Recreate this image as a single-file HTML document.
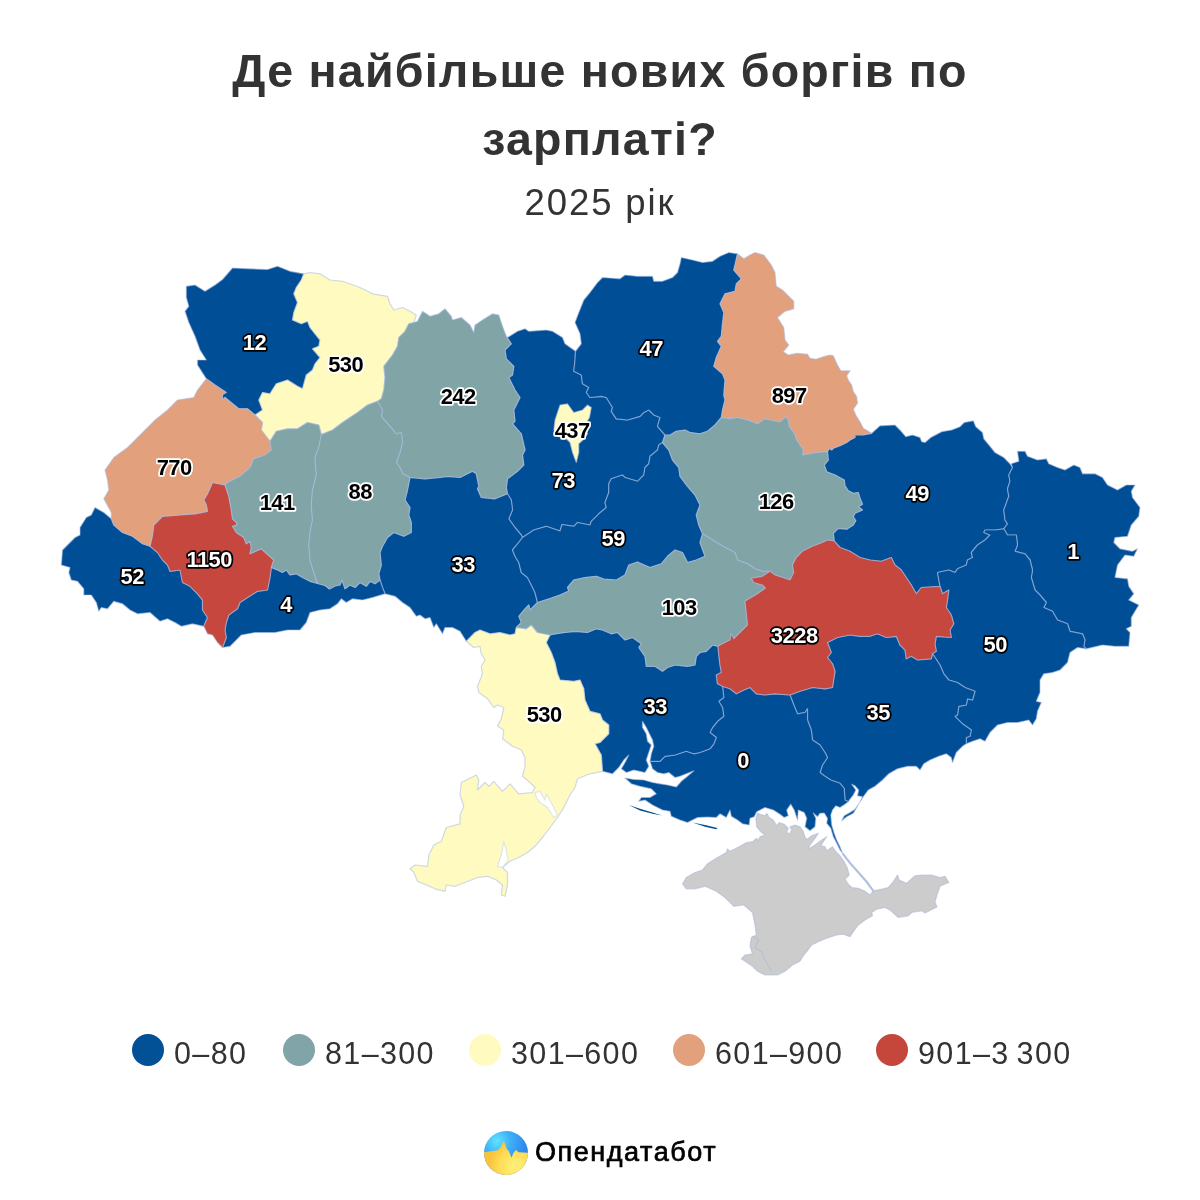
<!DOCTYPE html>
<html lang="uk">
<head>
<meta charset="utf-8">
<title>Де найбільше нових боргів по зарплаті?</title>
<style>
html,body{margin:0;padding:0;background:#fff;}
body{width:1200px;height:1200px;position:relative;overflow:hidden;font-family:"Liberation Sans",sans-serif;color:#333;}
.title{position:absolute;left:0;top:38px;width:1200px;text-align:center;font-weight:bold;font-size:46.5px;letter-spacing:1.25px;line-height:67.7px;color:#333;}
.sub{position:absolute;left:0;top:181.2px;width:1200px;text-align:center;font-size:36.5px;letter-spacing:1.9px;line-height:44px;color:#333;}
.legend{position:absolute;left:0;top:1031.2px;width:1200px;height:44px;}
.legend .it{position:absolute;top:0;height:44px;line-height:44px;font-size:30.5px;letter-spacing:1.35px;color:#333;white-space:nowrap;}
.legend .dot{position:absolute;top:2.8px;width:32px;height:32px;border-radius:50%;}
.logo{position:absolute;left:535px;top:1131.5px;font-size:27px;font-weight:normal;-webkit-text-stroke:0.7px #000;letter-spacing:1.55px;color:#000;line-height:40px;white-space:nowrap;}
#map{position:absolute;left:0;top:0;}
</style>
</head>
<body>
<div class="title">Де найбільше нових боргів по<br>зарплаті?</div>
<div class="sub">2025 рік</div>
<svg id="map" width="1200" height="1200" viewBox="0 0 1200 1200">
<!--MAP-->
<defs><filter id="bl" x="0" y="0" width="1200" height="1200" filterUnits="userSpaceOnUse"><feGaussianBlur stdDeviation="0.45"/></filter></defs>
<g stroke="#aab9e4" stroke-width="1.2" stroke-opacity="0.55" stroke-linejoin="round" filter="url(#bl)">
<polygon fill="#025096" points="206.3,378.8 197.5,365.0 197.5,360.0 206.3,360.0 200.0,350.0 195.0,336.3 188.8,322.5 185.0,311.3 188.8,306.3 186.3,297.5 186.3,286.3 195.0,285.0 205.0,291.3 215.0,285.0 222.5,279.5 232.5,268.0 250.0,268.8 267.5,269.5 277.5,266.3 290.0,271.3 303.8,273.8 303.8,273.8 301.3,280.0 296.3,287.5 293.8,293.8 297.5,302.5 293.8,312.5 292.5,320.0 301.3,323.8 307.5,321.3 310.0,327.5 315.0,333.8 320.0,340.0 318.8,346.3 312.5,348.8 320.0,357.5 315.0,363.8 312.5,370.0 306.3,375.0 302.5,388.8 297.5,386.3 287.5,380.0 276.3,383.8 270.0,393.8 262.5,392.5 258.8,400.0 262.5,410.0 255.0,415.0 255.0,415.0 247.5,408.8 238.8,408.8 225.0,397.5 222.5,400.0 222.5,394.5 226.3,392.5 215.0,385.0 206.3,378.8"/>
<polygon fill="#025096" points="506.3,336.3 507.5,337.5 517.5,331.3 525.0,328.8 528.8,331.3 546.3,330.0 552.5,331.3 562.5,337.5 565.0,343.8 573.8,350.0 575.5,351.3 575.5,351.3 575.0,360.0 573.8,371.3 581.3,375.0 582.5,383.8 588.8,387.5 586.3,392.5 590.0,397.5 601.3,396.3 606.3,397.5 612.5,407.5 611.3,411.3 616.3,418.8 627.5,420.0 640.0,416.3 643.8,412.5 648.8,410.0 653.8,415.0 660.0,417.5 657.5,426.3 665.0,435.0 665.0,435.0 662.5,442.5 662.5,442.5 658.8,445.0 657.5,450.0 650.0,456.3 648.8,463.8 645.0,467.5 643.8,475.0 637.5,481.3 625.0,477.5 622.5,475.0 611.3,478.8 608.8,483.8 608.8,492.5 605.0,502.5 606.3,507.5 598.8,513.8 591.3,521.3 590.0,525.0 577.5,522.5 573.8,526.3 562.0,524.5 560.0,531.0 546.3,526.3 533.8,530.0 522.5,537.5 522.5,537.5 521.3,535.0 515.0,527.5 508.8,518.8 512.5,510.0 511.3,500.0 507.5,493.8 507.5,493.8 506.3,487.5 507.5,478.8 517.5,471.3 523.8,465.0 522.5,455.0 525.0,450.0 521.3,433.8 512.5,423.8 515.0,421.3 513.8,410.0 520.0,397.5 515.0,390.0 508.8,377.5 512.5,375.0 513.8,366.3 506.3,358.8 505.0,350.0 511.3,343.8 506.3,336.3"/>
<polygon fill="#025096" points="575.5,351.3 581.3,343.8 580.0,333.8 575.0,322.5 578.8,312.5 583.8,300.0 590.0,292.5 597.5,282.5 602.5,277.5 620.0,278.8 625.0,275.0 637.5,276.3 652.5,276.3 653.8,281.3 662.5,281.3 672.5,277.5 677.5,272.5 680.0,263.8 681.3,257.5 692.5,260.0 702.5,262.5 712.5,261.3 720.0,256.3 728.8,252.5 737.5,253.8 737.5,253.8 735.0,265.0 733.8,270.0 741.3,278.8 736.3,283.8 735.0,291.3 725.0,293.8 720.0,303.8 723.8,312.5 722.5,323.8 721.3,336.3 717.5,341.3 721.3,346.3 716.3,357.5 713.8,366.3 722.5,373.8 725.0,380.0 723.8,395.0 725.0,400.0 722.5,410.0 721.3,417.5 721.3,417.5 715.0,425.0 707.5,431.3 700.0,433.8 690.0,432.5 685.0,430.0 676.3,431.3 670.0,435.0 665.0,435.0 665.0,435.0 657.5,426.3 660.0,417.5 653.8,415.0 648.8,410.0 643.8,412.5 640.0,416.3 627.5,420.0 616.3,418.8 611.3,411.3 612.5,407.5 606.3,397.5 601.3,396.3 590.0,397.5 586.3,392.5 588.8,387.5 582.5,383.8 581.3,375.0 573.8,371.3 575.0,360.0 575.5,351.3"/>
<polygon fill="#025096" points="871.7,433.3 880.0,425.8 895.0,425.0 900.0,430.0 905.8,436.7 912.5,435.0 920.0,437.5 921.7,441.7 925.0,442.5 930.8,437.5 941.7,431.7 951.7,430.0 960.0,426.7 964.2,422.5 973.3,420.8 975.8,426.7 982.5,432.5 983.8,438.8 990.0,446.3 995.0,452.5 1003.8,457.5 1010.0,463.8 1012.5,467.5 1012.5,467.5 1008.8,475.0 1010.0,481.3 1007.5,488.8 1008.8,496.3 1003.8,510.0 1005.0,520.0 1007.5,523.8 1003.8,528.8 1003.8,528.8 995.0,530.0 985.0,530.0 983.8,532.5 990.0,535.0 985.0,540.0 977.5,545.0 971.3,552.5 972.5,557.5 967.5,560.0 966.3,565.0 957.5,568.8 955.0,572.5 948.8,570.0 937.5,572.5 940.0,586.3 940.0,586.3 921.3,587.5 916.3,593.8 911.3,585.0 906.3,577.5 901.3,570.0 895.0,565.0 891.3,557.5 881.3,561.3 870.0,560.0 860.0,557.5 850.0,551.3 840.0,547.5 834.2,541.0 834.2,541.0 833.3,533.3 838.3,528.3 846.7,529.2 853.3,525.0 855.8,520.8 853.3,516.7 855.0,513.3 862.5,510.0 858.3,506.7 862.5,504.2 860.0,498.3 858.3,492.5 853.3,493.3 848.3,490.8 845.0,485.8 844.2,480.0 835.0,475.0 826.7,471.7 824.2,465.0 828.3,460.0 827.5,451.7 827.5,451.7 829.2,448.3 831.7,450.0 833.3,448.3 840.0,445.8 846.7,442.5 850.0,440.0 855.0,437.5 855.0,435.0 863.3,435.0 871.7,433.3"/>
<polygon fill="#025096" points="1012.5,467.5 1011.3,463.8 1018.8,461.3 1017.5,451.3 1025.0,451.3 1027.5,456.3 1037.5,460.0 1046.3,458.8 1048.8,463.8 1057.5,467.5 1065.0,470.0 1073.8,465.0 1080.0,467.5 1082.5,473.8 1095.0,473.8 1102.5,477.5 1107.5,485.0 1117.5,490.0 1126.3,485.0 1135.0,485.0 1131.3,491.3 1132.5,497.5 1140.0,507.5 1138.8,516.3 1131.3,525.0 1127.5,536.3 1115.0,537.5 1113.8,542.5 1120.0,548.8 1132.5,551.3 1137.5,548.8 1133.8,556.3 1125.0,555.0 1117.5,565.0 1115.0,577.5 1127.5,578.8 1128.8,586.3 1133.8,593.8 1128.8,600.0 1138.8,605.0 1131.3,617.5 1131.3,626.3 1126.3,628.8 1130.0,632.5 1128.8,646.3 1115.0,646.3 1102.5,645.0 1086.3,648.8 1086.3,648.8 1083.8,646.3 1085.0,640.0 1082.5,633.8 1070.0,631.3 1067.5,623.8 1057.5,620.0 1052.5,611.3 1043.8,607.5 1046.3,602.5 1040.0,595.0 1035.0,590.0 1031.3,577.5 1032.5,570.0 1030.0,560.0 1025.0,553.8 1015.0,551.3 1017.5,545.0 1016.3,535.0 1007.5,535.0 1003.8,528.8 1003.8,528.8 1007.5,523.8 1005.0,520.0 1003.8,510.0 1008.8,496.3 1007.5,488.8 1010.0,481.3 1008.8,475.0 1012.5,467.5"/>
<polygon fill="#025096" points="1086.3,648.8 1077.5,647.5 1070.0,652.5 1067.5,662.5 1060.0,670.0 1052.5,672.5 1043.8,673.8 1040.0,680.0 1040.0,692.5 1036.3,701.3 1041.3,702.5 1037.5,711.3 1036.3,718.8 1032.5,725.0 1028.8,720.0 1017.5,722.5 1007.5,722.5 997.5,725.0 990.0,732.5 985.0,741.3 980.0,738.8 972.5,741.3 966.3,743.8 966.3,743.8 966.3,737.5 970.0,736.3 971.3,730.0 962.5,723.8 955.0,716.3 957.5,715.0 958.8,706.3 966.3,705.0 967.5,698.8 972.5,700.0 975.0,691.3 965.0,687.5 957.5,682.5 948.8,680.0 943.8,673.8 940.0,665.0 935.0,657.5 932.5,653.5 932.5,653.5 936.3,651.3 935.0,643.8 936.3,636.3 951.3,637.5 950.0,630.0 953.8,623.8 951.3,615.0 946.3,607.5 947.5,600.0 948.8,590.0 942.5,593.8 940.0,586.3 940.0,586.3 937.5,572.5 948.8,570.0 955.0,572.5 957.5,568.8 966.3,565.0 967.5,560.0 972.5,557.5 971.3,552.5 977.5,545.0 985.0,540.0 990.0,535.0 983.8,532.5 985.0,530.0 995.0,530.0 1003.8,528.8 1003.8,528.8 1007.5,535.0 1016.3,535.0 1017.5,545.0 1015.0,551.3 1025.0,553.8 1030.0,560.0 1032.5,570.0 1031.3,577.5 1035.0,590.0 1040.0,595.0 1046.3,602.5 1043.8,607.5 1052.5,611.3 1057.5,620.0 1067.5,623.8 1070.0,631.3 1082.5,633.8 1085.0,640.0 1083.8,646.3 1086.3,648.8"/>
<polygon fill="#025096" points="966.3,743.8 962.5,746.3 956.3,752.5 952.5,762.5 951.3,757.5 946.3,753.8 938.8,756.3 930.0,760.0 923.8,763.8 920.0,770.0 916.3,766.3 907.5,766.3 897.5,768.8 888.8,773.8 882.5,780.0 875.0,786.3 868.3,790.0 863.3,796.7 859.2,803.3 855.0,809.2 850.0,812.5 844.2,815.8 841.7,820.8 846.7,816.7 853.3,813.3 856.7,807.5 860.0,801.7 862.5,796.7 857.5,795.8 858.7,790.0 855.0,785.8 851.7,784.2 855.8,790.0 853.3,795.0 850.0,799.2 848.3,801.7 848.3,801.7 845.0,800.0 844.2,788.3 840.0,783.3 830.8,780.0 824.2,775.8 820.0,772.5 822.5,765.0 827.5,757.5 825.0,752.5 820.0,745.0 812.5,740.0 811.3,730.0 807.5,720.0 807.5,708.8 805.0,712.5 797.5,713.8 793.8,705.0 790.0,695.0 790.0,695.0 800.0,691.3 812.5,687.5 825.0,688.8 832.5,687.5 835.0,671.3 832.5,663.8 827.5,657.5 831.3,652.5 827.5,642.5 837.5,637.5 850.0,635.0 860.0,636.3 870.0,636.3 877.5,633.8 886.3,637.5 896.3,636.3 900.0,645.0 905.0,650.0 906.3,658.8 911.3,656.3 917.5,660.0 931.3,658.8 932.5,653.5 932.5,653.5 935.0,657.5 940.0,665.0 943.8,673.8 948.8,680.0 957.5,682.5 965.0,687.5 975.0,691.3 972.5,700.0 967.5,698.8 966.3,705.0 958.8,706.3 957.5,715.0 955.0,716.3 962.5,723.8 971.3,730.0 970.0,736.3 966.3,737.5 966.3,743.8"/>
<polygon fill="#025096" points="848.3,801.7 845.0,804.2 840.0,807.5 835.8,805.8 832.5,810.0 830.8,815.0 831.7,825.0 834.2,833.3 836.7,840.0 840.0,846.7 842.5,853.3 840.0,850.0 836.7,843.3 833.3,836.7 830.8,828.3 826.7,823.3 827.5,818.3 824.2,813.0 820.0,813.3 817.5,816.7 813.3,813.0 815.8,818.3 815.0,826.7 810.0,830.8 805.0,826.7 806.7,818.3 804.2,812.5 798.3,810.0 797.5,820.0 794.2,810.0 790.8,804.2 786.7,810.0 788.3,815.8 784.2,817.5 780.0,814.2 773.3,810.0 765.0,807.5 756.7,811.7 754.2,816.7 750.0,818.3 749.2,825.0 742.5,823.8 737.5,820.0 731.3,816.3 730.0,810.0 726.3,817.5 720.0,813.8 716.3,817.5 707.5,817.0 697.5,817.5 687.5,822.5 680.0,820.0 671.3,816.3 670.0,811.3 662.5,810.0 652.5,805.0 645.0,800.0 638.8,801.3 641.3,797.5 650.0,797.5 656.3,793.8 651.3,788.8 640.0,786.3 631.3,783.8 625.0,778.0 633.8,779.5 643.8,780.0 652.5,782.5 660.0,783.8 667.5,785.0 676.3,787.0 681.3,781.3 687.5,776.3 693.8,770.8 686.3,773.8 680.0,776.3 675.0,777.5 668.8,772.5 663.8,773.8 657.5,772.5 652.5,768.8 650.0,761.3 650.0,761.3 660.0,761.3 665.0,756.3 675.0,755.0 686.3,751.3 693.8,753.8 700.0,752.5 710.0,748.8 713.8,743.8 716.3,737.5 710.0,732.5 712.5,727.5 717.5,721.3 723.8,716.3 722.5,707.5 718.8,701.3 723.8,697.5 722.5,686.3 722.5,686.3 730.0,688.8 736.3,693.8 743.8,690.0 750.0,687.5 756.3,693.8 765.0,695.0 775.0,693.8 790.0,695.0 790.0,695.0 793.8,705.0 797.5,713.8 805.0,712.5 807.5,708.8 807.5,720.0 811.3,730.0 812.5,740.0 820.0,745.0 825.0,752.5 827.5,757.5 822.5,765.0 820.0,772.5 824.2,775.8 830.8,780.0 840.0,783.3 844.2,788.3 845.0,800.0 848.3,801.7"/>
<polygon fill="#025096" points="650.0,761.3 651.3,753.8 653.8,746.3 652.5,740.0 650.0,735.0 646.3,727.5 642.5,721.3 642.5,727.5 646.3,733.8 647.5,741.3 651.3,745.0 648.8,752.5 646.3,760.0 648.8,766.3 645.0,772.5 633.8,770.0 626.3,772.5 621.3,768.8 625.0,762.5 628.8,755.0 623.8,760.0 618.8,767.5 612.5,773.8 602.5,771.3 602.5,771.3 601.3,755.0 595.0,743.8 600.0,742.5 608.8,733.8 608.8,725.0 602.5,720.0 600.0,713.8 590.0,711.3 585.0,700.0 583.8,688.8 580.0,680.0 573.8,681.3 560.0,680.0 557.5,673.8 555.0,662.5 551.3,652.5 546.3,642.5 550.0,635.0 550.0,635.0 555.0,633.8 565.0,632.5 575.0,631.3 587.5,632.5 596.3,628.8 602.5,630.0 611.3,633.8 617.5,632.5 625.0,640.0 632.5,637.5 641.3,643.8 638.8,647.5 645.0,656.3 646.3,666.3 655.0,666.3 662.5,671.3 667.5,667.5 675.0,665.0 687.5,666.3 695.0,665.0 696.3,656.3 700.0,652.5 706.3,651.3 712.5,645.0 718.0,646.3 718.0,646.3 718.8,655.0 720.0,665.0 721.3,672.5 716.3,675.0 717.5,683.8 722.5,686.3 722.5,686.3 723.8,697.5 718.8,701.3 722.5,707.5 723.8,716.3 717.5,721.3 712.5,727.5 710.0,732.5 716.3,737.5 713.8,743.8 710.0,748.8 700.0,752.5 693.8,753.8 686.3,751.3 675.0,755.0 665.0,756.3 660.0,761.3 650.0,761.3"/>
<polygon fill="#025096" points="466.3,641.3 460.0,631.3 452.5,627.5 445.0,627.5 442.5,633.8 436.3,623.8 433.8,627.5 430.0,617.5 425.0,618.8 420.0,615.0 416.3,616.3 410.0,607.5 402.5,602.5 395.0,596.3 385.0,593.8 385.0,593.8 382.5,587.5 380.0,580.0 380.0,580.0 378.8,573.8 381.3,565.0 380.0,552.5 382.5,546.3 387.5,537.5 393.8,532.5 403.8,536.3 411.3,532.5 411.3,522.5 408.8,515.0 410.0,507.5 405.0,500.0 407.5,490.0 410.0,477.5 410.0,477.5 425.0,478.8 440.0,477.5 447.5,476.3 460.0,477.5 472.5,471.3 476.3,473.8 478.8,486.3 477.5,488.8 481.3,497.5 495.0,498.8 507.5,493.8 507.5,493.8 511.3,500.0 512.5,510.0 508.8,518.8 515.0,527.5 521.3,535.0 522.5,537.5 522.5,537.5 517.5,543.8 512.5,550.0 515.0,556.3 518.8,562.5 521.3,572.5 527.5,577.5 531.3,585.0 535.0,592.5 537.5,602.5 537.5,602.5 530.0,610.0 528.8,605.0 525.0,608.8 518.8,616.3 521.3,622.5 516.3,627.5 516.3,627.5 515.0,633.8 510.0,635.0 500.0,632.5 490.0,633.8 480.0,630.0 475.0,632.5 466.3,641.3"/>
<polygon fill="#025096" points="522.5,537.5 533.8,530.0 546.3,526.3 560.0,531.0 562.0,524.5 573.8,526.3 577.5,522.5 590.0,525.0 591.3,521.3 598.8,513.8 606.3,507.5 605.0,502.5 608.8,492.5 608.8,483.8 611.3,478.8 622.5,475.0 625.0,477.5 637.5,481.3 643.8,475.0 645.0,467.5 648.8,463.8 650.0,456.3 657.5,450.0 658.8,445.0 662.5,442.5 662.5,442.5 668.8,450.0 672.5,460.0 678.8,467.5 680.0,476.3 687.5,486.3 695.0,495.0 700.0,505.0 696.3,515.0 698.8,525.0 702.5,533.8 702.5,533.8 700.0,542.5 705.0,556.3 696.3,560.0 687.5,562.5 682.5,552.5 675.0,550.0 667.5,556.3 661.3,563.8 650.0,567.5 637.5,562.0 628.8,565.0 625.0,575.0 616.3,580.0 603.8,579.0 596.3,576.3 585.0,577.5 573.8,580.0 567.5,587.5 568.8,591.0 560.0,595.0 550.0,598.5 537.5,602.5 537.5,602.5 535.0,592.5 531.3,585.0 527.5,577.5 521.3,572.5 518.8,562.5 515.0,556.3 512.5,550.0 517.5,543.8 522.5,537.5"/>
<polygon fill="#025096" points="385.0,593.8 372.5,597.5 362.5,600.0 352.5,598.8 346.3,602.5 341.3,598.8 337.5,603.8 330.0,608.8 320.0,610.0 310.0,612.5 306.3,622.5 300.0,630.0 287.5,630.0 275.0,632.5 255.0,632.5 241.3,635.0 235.0,641.3 230.0,646.3 222.5,647.5 222.5,647.5 226.3,637.5 225.0,630.0 226.3,622.5 228.8,615.0 237.5,608.8 240.0,602.5 247.5,597.5 257.5,591.3 267.5,590.0 270.0,577.5 271.3,567.5 271.3,567.5 277.5,570.0 282.5,572.5 286.3,570.0 290.0,575.0 296.3,573.8 302.5,577.5 310.0,581.3 317.5,583.5 317.5,583.5 325.0,585.5 329.5,589.0 335.0,586.0 340.0,585.0 342.0,580.0 345.0,588.8 350.0,585.0 355.0,587.5 360.0,582.5 366.3,586.3 370.0,581.3 375.0,583.8 380.0,580.0 380.0,580.0 382.5,587.5 385.0,593.8"/>
<polygon fill="#025096" points="203.8,626.3 192.5,623.8 181.3,626.3 175.0,622.5 167.5,618.8 160.0,621.3 150.0,612.5 137.5,613.8 130.0,610.0 122.5,603.8 113.8,601.3 107.5,608.8 101.3,607.5 98.8,611.3 96.3,602.5 91.3,595.0 83.8,595.0 83.8,588.8 77.5,581.3 71.3,580.0 68.8,572.5 70.0,567.5 61.3,565.0 62.5,550.0 70.0,542.5 75.0,537.5 80.0,535.0 80.0,527.5 86.3,517.5 91.3,515.0 95.0,507.5 103.8,512.5 111.3,518.8 111.3,518.8 113.8,525.0 122.5,532.5 132.5,536.3 142.5,543.8 150.0,546.3 150.0,546.3 157.5,552.5 162.5,560.0 167.5,565.0 170.0,571.3 180.0,570.0 182.5,582.5 190.0,586.3 197.5,593.8 202.5,600.0 202.5,610.0 207.5,617.5 203.8,626.3"/>
<polygon fill="#fffbc0" points="303.8,273.8 310.0,272.5 320.0,273.8 330.0,280.0 342.5,281.3 360.0,287.5 372.5,293.8 387.5,296.3 390.0,303.8 393.8,310.0 402.5,307.5 410.0,311.3 416.3,315.0 413.8,322.5 413.8,322.5 408.8,323.8 405.0,331.3 398.8,337.5 397.5,346.3 392.5,355.0 383.8,366.3 385.0,377.5 383.8,390.0 381.3,398.8 377.5,401.3 377.5,401.3 367.5,405.0 357.5,412.5 342.5,422.5 332.5,430.0 321.3,434.5 321.3,434.5 318.8,425.0 307.5,422.5 297.5,428.8 287.5,428.8 276.3,431.3 270.0,441.3 270.0,441.3 261.3,430.0 262.5,422.5 255.0,415.0 255.0,415.0 262.5,410.0 258.8,400.0 262.5,392.5 270.0,393.8 276.3,383.8 287.5,380.0 297.5,386.3 302.5,388.8 306.3,375.0 312.5,370.0 315.0,363.8 320.0,357.5 312.5,348.8 318.8,346.3 320.0,340.0 315.0,333.8 310.0,327.5 307.5,321.3 301.3,323.8 292.5,320.0 293.8,312.5 297.5,302.5 293.8,293.8 296.3,287.5 301.3,280.0 303.8,273.8"/>
<polygon fill="#81a4a7" points="413.8,322.5 417.5,321.3 422.5,311.3 430.0,316.3 438.8,313.8 445.0,308.8 451.3,316.3 452.5,320.0 461.3,317.5 470.0,325.0 473.8,332.5 475.0,325.0 482.5,320.0 492.5,313.8 498.8,315.0 502.5,326.3 506.3,336.3 506.3,336.3 511.3,343.8 505.0,350.0 506.3,358.8 513.8,366.3 512.5,375.0 508.8,377.5 515.0,390.0 520.0,397.5 513.8,410.0 515.0,421.3 512.5,423.8 521.3,433.8 525.0,450.0 522.5,455.0 523.8,465.0 517.5,471.3 507.5,478.8 506.3,487.5 507.5,493.8 507.5,493.8 495.0,498.8 481.3,497.5 477.5,488.8 478.8,486.3 476.3,473.8 472.5,471.3 460.0,477.5 447.5,476.3 440.0,477.5 425.0,478.8 410.0,477.5 410.0,477.5 402.5,473.8 400.0,467.5 396.3,462.5 400.0,452.5 402.5,442.5 401.3,432.5 396.3,433.8 388.8,425.0 381.3,416.3 382.5,410.0 377.5,401.3 377.5,401.3 381.3,398.8 383.8,390.0 385.0,377.5 383.8,366.3 392.5,355.0 397.5,346.3 398.8,337.5 405.0,331.3 408.8,323.8 413.8,322.5"/>
<polygon fill="#e2a07b" points="737.5,253.8 743.8,258.8 750.0,255.0 755.0,252.5 763.8,255.0 771.3,265.0 775.0,272.5 776.3,286.3 782.5,290.0 793.8,301.3 793.8,308.8 785.0,311.3 777.5,317.5 783.8,327.5 785.0,340.0 788.8,345.0 783.3,351.7 788.3,355.0 796.7,353.3 807.5,354.2 810.0,358.3 815.8,359.2 823.3,356.7 830.0,355.0 833.3,355.8 837.5,365.0 840.8,370.8 850.0,370.8 846.7,375.8 848.3,380.0 851.7,385.0 853.3,391.7 856.7,396.7 857.5,403.3 853.3,409.2 855.8,415.0 860.0,421.7 863.3,428.3 871.7,433.3 871.7,433.3 863.3,435.0 855.0,435.0 855.0,437.5 850.0,440.0 846.7,442.5 840.0,445.8 833.3,448.3 831.7,450.0 829.2,448.3 827.5,451.7 827.5,451.7 816.7,452.5 811.7,453.3 802.5,455.0 803.3,450.0 800.0,445.0 796.7,440.0 794.2,433.3 789.2,426.7 788.3,420.0 785.8,416.7 780.0,421.7 776.3,421.3 765.0,418.8 757.5,423.8 747.5,420.0 737.5,417.5 730.0,418.8 721.3,417.5 721.3,417.5 722.5,410.0 725.0,400.0 723.8,395.0 725.0,380.0 722.5,373.8 713.8,366.3 716.3,357.5 721.3,346.3 717.5,341.3 721.3,336.3 722.5,323.8 723.8,312.5 720.0,303.8 725.0,293.8 735.0,291.3 736.3,283.8 741.3,278.8 733.8,270.0 735.0,265.0 737.5,253.8"/>
<polygon fill="#81a4a7" points="665.0,435.0 670.0,435.0 676.3,431.3 685.0,430.0 690.0,432.5 700.0,433.8 707.5,431.3 715.0,425.0 721.3,417.5 721.3,417.5 730.0,418.8 737.5,417.5 747.5,420.0 757.5,423.8 765.0,418.8 776.3,421.3 780.0,421.7 785.8,416.7 788.3,420.0 789.2,426.7 794.2,433.3 796.7,440.0 800.0,445.0 803.3,450.0 802.5,455.0 811.7,453.3 816.7,452.5 827.5,451.7 827.5,451.7 828.3,460.0 824.2,465.0 826.7,471.7 835.0,475.0 844.2,480.0 845.0,485.8 848.3,490.8 853.3,493.3 858.3,492.5 860.0,498.3 862.5,504.2 858.3,506.7 862.5,510.0 855.0,513.3 853.3,516.7 855.8,520.8 853.3,525.0 846.7,529.2 838.3,528.3 833.3,533.3 834.2,541.0 834.2,541.0 827.5,540.0 822.5,542.5 812.5,546.3 802.5,551.3 796.3,557.5 792.5,565.0 793.8,572.5 790.0,580.0 782.5,577.5 775.0,575.0 770.0,571.3 770.0,571.3 762.5,571.3 755.0,568.8 747.5,563.8 737.5,560.0 735.0,552.5 725.0,547.5 712.5,540.0 702.5,533.8 702.5,533.8 698.8,525.0 696.3,515.0 700.0,505.0 695.0,495.0 687.5,486.3 680.0,476.3 678.8,467.5 672.5,460.0 668.8,450.0 662.5,442.5 662.5,442.5 665.0,435.0"/>
<polygon fill="#fffbc0" points="602.5,771.3 590.0,773.8 577.5,778.8 575.0,787.5 570.0,795.0 563.8,807.5 557.5,817.5 550.0,827.5 542.5,837.5 535.0,846.3 527.5,852.5 518.8,857.5 510.0,861.3 502.5,867.5 507.5,872.5 507.5,885.0 505.0,896.3 501.3,895.0 502.5,885.0 496.3,880.0 487.5,876.3 477.5,877.5 465.0,882.5 455.0,886.3 446.3,885.0 445.0,891.3 435.0,888.8 417.5,881.3 413.8,872.5 410.0,868.8 415.0,865.0 427.5,866.3 428.8,855.0 433.8,845.0 441.3,841.3 446.3,827.5 460.0,823.8 460.0,815.0 463.8,806.3 460.0,795.0 461.3,782.5 476.3,775.0 478.8,780.0 477.5,790.0 485.0,782.5 488.8,786.3 493.8,781.3 502.5,791.3 510.0,783.8 518.8,793.8 532.5,792.5 535.0,787.5 530.0,782.5 522.5,776.3 525.0,766.3 525.0,757.5 521.3,750.0 512.5,746.3 502.5,738.8 503.8,730.0 497.5,726.3 501.3,718.8 503.8,707.5 497.5,705.0 493.8,707.5 487.5,698.8 478.8,692.5 477.5,686.3 482.5,673.8 481.3,666.3 485.0,660.0 481.3,653.8 480.0,646.3 473.8,647.5 466.3,641.3 466.3,641.3 475.0,632.5 480.0,630.0 490.0,633.8 500.0,632.5 510.0,635.0 515.0,633.8 516.3,627.5 516.3,627.5 526.3,628.8 531.3,625.0 537.5,632.5 550.0,635.0 550.0,635.0 546.3,642.5 551.3,652.5 555.0,662.5 557.5,673.8 560.0,680.0 573.8,681.3 580.0,680.0 583.8,688.8 585.0,700.0 590.0,711.3 600.0,713.8 602.5,720.0 608.8,725.0 608.8,733.8 600.0,742.5 595.0,743.8 601.3,755.0 602.5,771.3"/>
<polygon fill="#81a4a7" points="537.5,602.5 550.0,598.5 560.0,595.0 568.8,591.0 567.5,587.5 573.8,580.0 585.0,577.5 596.3,576.3 603.8,579.0 616.3,580.0 625.0,575.0 628.8,565.0 637.5,562.0 650.0,567.5 661.3,563.8 667.5,556.3 675.0,550.0 682.5,552.5 687.5,562.5 696.3,560.0 705.0,556.3 700.0,542.5 702.5,533.8 702.5,533.8 712.5,540.0 725.0,547.5 735.0,552.5 737.5,560.0 747.5,563.8 755.0,568.8 762.5,571.3 770.0,571.3 770.0,571.3 762.5,576.3 751.3,578.3 753.8,582.5 762.5,585.0 765.5,588.0 757.5,593.8 745.0,601.3 746.3,612.5 747.5,625.0 740.0,632.5 733.8,638.8 731.3,633.8 730.0,640.0 722.5,643.8 718.0,646.3 718.0,646.3 712.5,645.0 706.3,651.3 700.0,652.5 696.3,656.3 695.0,665.0 687.5,666.3 675.0,665.0 667.5,667.5 662.5,671.3 655.0,666.3 646.3,666.3 645.0,656.3 638.8,647.5 641.3,643.8 632.5,637.5 625.0,640.0 617.5,632.5 611.3,633.8 602.5,630.0 596.3,628.8 587.5,632.5 575.0,631.3 565.0,632.5 555.0,633.8 550.0,635.0 550.0,635.0 537.5,632.5 531.3,625.0 526.3,628.8 516.3,627.5 516.3,627.5 521.3,622.5 518.8,616.3 525.0,608.8 528.8,605.0 530.0,610.0 537.5,602.5"/>
<polygon fill="#c5473c" points="770.0,571.3 775.0,575.0 782.5,577.5 790.0,580.0 793.8,572.5 792.5,565.0 796.3,557.5 802.5,551.3 812.5,546.3 822.5,542.5 827.5,540.0 834.2,541.0 834.2,541.0 840.0,547.5 850.0,551.3 860.0,557.5 870.0,560.0 881.3,561.3 891.3,557.5 895.0,565.0 901.3,570.0 906.3,577.5 911.3,585.0 916.3,593.8 921.3,587.5 940.0,586.3 940.0,586.3 942.5,593.8 948.8,590.0 947.5,600.0 946.3,607.5 951.3,615.0 953.8,623.8 950.0,630.0 951.3,637.5 936.3,636.3 935.0,643.8 936.3,651.3 932.5,653.5 932.5,653.5 931.3,658.8 917.5,660.0 911.3,656.3 906.3,658.8 905.0,650.0 900.0,645.0 896.3,636.3 886.3,637.5 877.5,633.8 870.0,636.3 860.0,636.3 850.0,635.0 837.5,637.5 827.5,642.5 831.3,652.5 827.5,657.5 832.5,663.8 835.0,671.3 832.5,687.5 825.0,688.8 812.5,687.5 800.0,691.3 790.0,695.0 790.0,695.0 775.0,693.8 765.0,695.0 756.3,693.8 750.0,687.5 743.8,690.0 736.3,693.8 730.0,688.8 722.5,686.3 722.5,686.3 717.5,683.8 716.3,675.0 721.3,672.5 720.0,665.0 718.8,655.0 718.0,646.3 718.0,646.3 722.5,643.8 730.0,640.0 731.3,633.8 733.8,638.8 740.0,632.5 747.5,625.0 746.3,612.5 745.0,601.3 757.5,593.8 765.5,588.0 762.5,585.0 753.8,582.5 751.3,578.3 762.5,576.3 770.0,571.3"/>
<polygon fill="#c5473c" points="222.5,647.5 217.5,642.5 212.5,635.0 207.5,633.8 203.8,626.3 203.8,626.3 207.5,617.5 202.5,610.0 202.5,600.0 197.5,593.8 190.0,586.3 182.5,582.5 180.0,570.0 170.0,571.3 167.5,565.0 162.5,560.0 157.5,552.5 150.0,546.3 150.0,546.3 152.5,535.0 153.8,525.0 162.5,516.3 180.0,515.0 195.0,513.8 207.5,511.3 206.3,505.0 203.8,500.0 207.5,493.8 212.5,482.5 225.0,485.0 225.0,485.0 228.8,496.3 231.3,510.0 232.5,518.8 236.3,522.5 237.0,525.0 232.5,526.3 236.3,532.5 243.8,537.5 246.3,543.8 250.0,541.3 251.3,547.5 250.0,553.8 261.3,548.8 273.8,560.0 271.3,567.5 271.3,567.5 270.0,577.5 267.5,590.0 257.5,591.3 247.5,597.5 240.0,602.5 237.5,608.8 228.8,615.0 226.3,622.5 225.0,630.0 226.3,637.5 222.5,647.5"/>
<polygon fill="#e2a07b" points="111.3,518.8 111.3,512.5 103.8,498.8 108.8,490.0 107.5,480.0 105.0,470.0 113.8,457.5 127.5,447.5 142.5,432.5 155.0,420.0 167.5,410.0 177.5,400.0 193.8,397.5 197.5,390.0 206.3,378.8 206.3,378.8 215.0,385.0 226.3,392.5 222.5,394.5 222.5,400.0 225.0,397.5 238.8,408.8 247.5,408.8 255.0,415.0 255.0,415.0 262.5,422.5 261.3,430.0 270.0,441.3 270.0,441.3 271.3,450.0 265.0,455.0 253.8,458.8 250.0,467.5 240.0,476.3 227.5,482.5 225.0,485.0 225.0,485.0 212.5,482.5 207.5,493.8 203.8,500.0 206.3,505.0 207.5,511.3 195.0,513.8 180.0,515.0 162.5,516.3 153.8,525.0 152.5,535.0 150.0,546.3 150.0,546.3 142.5,543.8 132.5,536.3 122.5,532.5 113.8,525.0 111.3,518.8"/>
<polygon fill="#81a4a7" points="270.0,441.3 276.3,431.3 287.5,428.8 297.5,428.8 307.5,422.5 318.8,425.0 321.3,434.5 321.3,434.5 318.8,447.5 315.0,457.5 316.3,475.0 312.5,490.0 311.3,505.0 312.5,520.0 310.0,532.5 308.8,545.0 310.0,560.0 313.8,572.5 317.5,583.5 317.5,583.5 310.0,581.3 302.5,577.5 296.3,573.8 290.0,575.0 286.3,570.0 282.5,572.5 277.5,570.0 271.3,567.5 271.3,567.5 273.8,560.0 261.3,548.8 250.0,553.8 251.3,547.5 250.0,541.3 246.3,543.8 243.8,537.5 236.3,532.5 232.5,526.3 237.0,525.0 236.3,522.5 232.5,518.8 231.3,510.0 228.8,496.3 225.0,485.0 225.0,485.0 227.5,482.5 240.0,476.3 250.0,467.5 253.8,458.8 265.0,455.0 271.3,450.0 270.0,441.3"/>
<polygon fill="#81a4a7" points="321.3,434.5 332.5,430.0 342.5,422.5 357.5,412.5 367.5,405.0 377.5,401.3 377.5,401.3 382.5,410.0 381.3,416.3 388.8,425.0 396.3,433.8 401.3,432.5 402.5,442.5 400.0,452.5 396.3,462.5 400.0,467.5 402.5,473.8 410.0,477.5 410.0,477.5 407.5,490.0 405.0,500.0 410.0,507.5 408.8,515.0 411.3,522.5 411.3,532.5 403.8,536.3 393.8,532.5 387.5,537.5 382.5,546.3 380.0,552.5 381.3,565.0 378.8,573.8 380.0,580.0 380.0,580.0 375.0,583.8 370.0,581.3 366.3,586.3 360.0,582.5 355.0,587.5 350.0,585.0 345.0,588.8 342.0,580.0 340.0,585.0 335.0,586.0 329.5,589.0 325.0,585.5 317.5,583.5 317.5,583.5 313.8,572.5 310.0,560.0 308.8,545.0 310.0,532.5 312.5,520.0 311.3,505.0 312.5,490.0 316.3,475.0 315.0,457.5 318.8,447.5 321.3,434.5"/>
<polygon fill="#fffbc0" points="560.0,405.0 567.5,403.8 573.8,412.5 582.5,410.0 587.5,405.0 591.3,407.5 589.5,417.5 585.0,425.0 587.5,434.0 583.0,440.0 578.8,443.8 578.8,452.5 576.3,462.5 572.5,452.5 570.0,442.5 565.0,437.5 557.5,436.3 553.8,430.0 555.0,420.0 557.5,412.5"/>
<polygon fill="#cccccc" stroke="#a9b6d8" points="755.8,818.3 757.5,813.3 765.0,815.8 766.7,813.3 769.2,817.5 773.3,820.0 776.7,825.8 779.2,822.5 784.2,824.2 788.3,828.3 786.7,831.7 789.2,834.2 791.7,830.0 790.0,826.7 795.0,825.0 800.0,826.7 803.3,831.7 805.0,837.5 807.5,839.2 811.7,835.8 818.3,833.3 815.0,838.3 810.0,845.0 808.3,849.2 815.0,845.0 821.7,840.0 826.7,836.7 823.3,841.7 820.8,845.8 825.0,846.7 826.7,850.8 832.5,846.7 835.8,851.7 840.0,855.8 844.2,861.7 847.5,868.3 849.2,875.0 845.0,879.2 848.3,884.2 851.7,887.5 858.3,888.3 864.2,890.8 870.0,895.0 873.3,890.8 881.7,889.2 888.3,887.5 893.3,881.7 897.5,875.0 899.2,880.0 906.7,883.3 915.0,875.8 921.7,875.0 931.7,875.0 940.0,877.5 945.0,876.3 948.8,882.5 940.0,886.3 937.0,895.0 935.0,902.0 937.0,907.0 925.0,913.0 921.7,910.8 911.7,912.5 908.3,915.8 898.3,917.5 890.0,910.0 885.0,907.5 876.7,909.2 871.7,912.5 872.5,915.8 865.0,920.0 858.3,925.0 853.3,931.7 850.0,936.7 843.3,934.2 836.7,935.0 826.7,938.3 818.3,941.7 811.7,945.0 806.7,951.7 803.8,955.0 800.0,961.3 792.5,965.0 785.0,971.3 777.5,975.0 765.0,975.0 757.5,971.3 752.5,966.3 741.3,958.8 745.0,955.0 752.5,953.8 750.0,946.3 751.3,937.5 756.3,935.0 755.0,925.0 752.5,912.5 743.8,905.0 733.8,906.3 725.0,897.5 716.3,891.3 705.0,886.3 695.0,888.8 686.3,888.8 682.5,883.8 686.3,877.5 695.0,872.5 702.5,870.0 707.5,863.8 717.5,857.5 726.3,852.5 727.5,848.8 730.0,851.3 740.0,846.3 746.7,842.5 752.5,841.7 756.7,838.3 758.3,840.8 760.0,836.7 765.0,835.0 760.8,831.7 756.7,826.7"/>
<polyline fill="none" stroke="#a9b6d8" points="752.5,936.0 758.8,940.0 755.0,947.5 762.5,952.5 765.0,960.0 771.3,971.3"/>
<polyline fill="none" stroke="#b4c0e0" stroke-opacity="1" stroke-width="2.2" points="842.5,853.3 850.0,863.0 858.0,872.0 866.0,881.0 873.3,890.8"/>
<polygon fill="#fff" stroke="#c9d2e6" points="535.0,792.5 540.0,791.3 545.0,800.0 546.3,793.8 552.5,805.0 557.5,815.0 553.8,817.5 547.5,807.5 540.0,802.5 536.3,797.5"/>
<polygon fill="#fff" stroke="#c9d2e6" points="503.8,841.3 506.3,850.0 508.0,860.0 502.5,867.5 497.5,866.3 501.3,855.0"/>
<polygon fill="#025096" stroke="none" points="628.8,805.0 640.0,808.8 652.5,812.5 662.5,815.5 652.5,813.8 640.0,810.5"/>
<polygon fill="#025096" stroke="none" points="692.5,822.5 705.0,825.0 717.5,828.0 716.3,829.3 705.0,826.8"/>
</g>
<g font-family="Liberation Sans, sans-serif" font-weight="bold" font-size="22.8" letter-spacing="-0.5" text-anchor="middle" stroke-width="3.6" stroke-linejoin="round" paint-order="stroke">
<text transform="translate(254.5 350.0) scale(0.962 1)" fill="#fff" stroke="#000">12</text>
<text transform="translate(345.7 372.0) scale(0.962 1)" fill="#000" stroke="#fff">530</text>
<text transform="translate(458.2 404.0) scale(0.962 1)" fill="#000" stroke="#fff">242</text>
<text transform="translate(651.2 356.0) scale(0.962 1)" fill="#fff" stroke="#000">47</text>
<text transform="translate(789.2 403.0) scale(0.962 1)" fill="#000" stroke="#fff">897</text>
<text transform="translate(572.2 438.0) scale(0.962 1)" fill="#000" stroke="#fff">437</text>
<text transform="translate(563.2 488.0) scale(0.962 1)" fill="#fff" stroke="#000">73</text>
<text transform="translate(174.2 475.0) scale(0.962 1)" fill="#000" stroke="#fff">770</text>
<text transform="translate(277.2 510.0) scale(0.962 1)" fill="#000" stroke="#fff">141</text>
<text transform="translate(360.2 499.0) scale(0.962 1)" fill="#000" stroke="#fff">88</text>
<text transform="translate(463.2 572.0) scale(0.962 1)" fill="#fff" stroke="#000">33</text>
<text transform="translate(613.2 546.0) scale(0.962 1)" fill="#fff" stroke="#000">59</text>
<text transform="translate(776.2 509.0) scale(0.962 1)" fill="#000" stroke="#fff">126</text>
<text transform="translate(917.2 501.0) scale(0.962 1)" fill="#fff" stroke="#000">49</text>
<text transform="translate(1073.2 559.0) scale(0.962 1)" fill="#fff" stroke="#000">1</text>
<text transform="translate(132.2 584.0) scale(0.962 1)" fill="#fff" stroke="#000">52</text>
<text transform="translate(209.2 567.0) scale(0.962 1)" fill="#fff" stroke="#000">1150</text>
<text transform="translate(286.2 612.0) scale(0.962 1)" fill="#fff" stroke="#000">4</text>
<text transform="translate(679.2 615.0) scale(0.962 1)" fill="#000" stroke="#fff">103</text>
<text transform="translate(794.2 643.0) scale(0.962 1)" fill="#fff" stroke="#000">3228</text>
<text transform="translate(995.2 652.0) scale(0.962 1)" fill="#fff" stroke="#000">50</text>
<text transform="translate(544.2 722.0) scale(0.962 1)" fill="#000" stroke="#fff">530</text>
<text transform="translate(655.2 714.0) scale(0.962 1)" fill="#fff" stroke="#000">33</text>
<text transform="translate(743.2 768.0) scale(0.962 1)" fill="#fff" stroke="#000">0</text>
<text transform="translate(878.2 720.0) scale(0.962 1)" fill="#fff" stroke="#000">35</text>
</g>
<!--/MAP-->
</svg>
<div class="legend">
<span class="dot" style="left:132px;background:#025096"></span><span class="it" style="left:174px">0–80</span>
<span class="dot" style="left:283px;background:#81a4a8"></span><span class="it" style="left:325px">81–300</span>
<span class="dot" style="left:469px;background:#fffac0"></span><span class="it" style="left:511px">301–600</span>
<span class="dot" style="left:673px;background:#e2a07c"></span><span class="it" style="left:715px">601–900</span>
<span class="dot" style="left:876px;background:#c5473c"></span><span class="it" style="left:918px">901–3<span style="letter-spacing:-1.5px"> </span>300</span>
</div>
<svg style="position:absolute;left:484px;top:1130.6px" width="44" height="44" viewBox="0 0 44 44">
<defs>
<radialGradient id="gb" cx="13" cy="10" r="30" gradientUnits="userSpaceOnUse"><stop offset="0" stop-color="#60e4ff"/><stop offset="0.45" stop-color="#3fb0f8"/><stop offset="1" stop-color="#2c86ee"/></radialGradient>
<radialGradient id="gy" cx="31" cy="35" r="26" gradientUnits="userSpaceOnUse"><stop offset="0" stop-color="#fff27c"/><stop offset="0.6" stop-color="#ffdc55"/><stop offset="1" stop-color="#f7c43c"/></radialGradient>
<clipPath id="cc"><circle cx="22" cy="22" r="22"/></clipPath>
</defs>
<circle cx="22" cy="22" r="22" fill="url(#gb)"/>
<path clip-path="url(#cc)" fill="url(#gy)" d="M0,21.2 L14.1,19.3 L16.2,16.9 L19.9,9.4 L22.7,18 L24.9,20.2 L27.5,26.7 L29.2,22.4 L31.8,19.1 L34.6,21.2 L44,21.7 L44,44 L0,44 Z"/>
</svg>
<div class="logo">Опендатабот</div>
</body>
</html>
